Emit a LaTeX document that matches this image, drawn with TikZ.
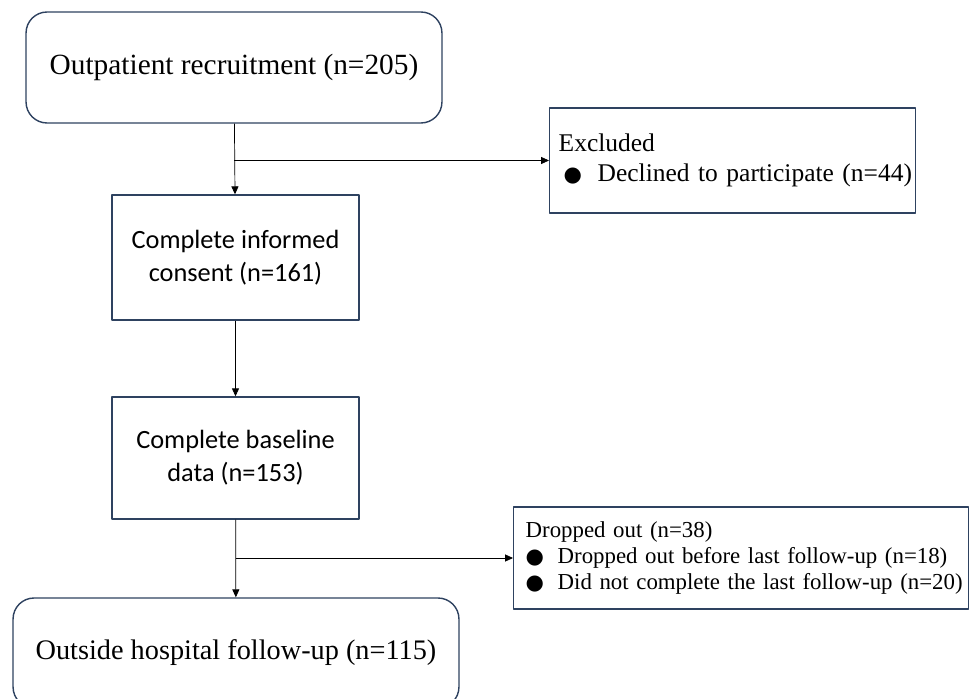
\documentclass[tikz,border=0pt]{standalone}
\usepackage{fontspec}
\setmainfont{Liberation Serif}
\newfontfamily\calibri{Carlito}
\newfontfamily\symfont{DejaVu Sans}
\usetikzlibrary{arrows.meta}
\definecolor{edgeblue}{HTML}{2E4260}
\newcommand{\bul}{{\symfont\fontsize{12}{12}\selectfont ●}}
\begin{document}
\begin{tikzpicture}[x=0.02cm, y=-0.02cm, line join=round, >={Triangle[length=4.5pt,width=4pt]},
	box/.style={draw=edgeblue, line width=0.8pt, minimum width=4.94cm, inner sep=0pt, align=center},
	roundbox/.style={box, rounded corners=0.42cm},
	listbox/.style={draw=edgeblue, line width=0.8pt, align=left, anchor=west}]
	\useasboundingbox (0,0) rectangle (971,699);
	\node[roundbox, minimum width=8.32cm, minimum height=2.22cm, font=\fontsize{16.7}{19}\selectfont] (recruit) at (234,67.5) {Outpatient recruitment (n=205)};
	\node[box, minimum height=2.5cm, font=\calibri\fontsize{15}{18.8}\selectfont] (consent) at (235.5,257.5) {Complete informed\\consent (n=161)};
	\node[box, minimum height=2.44cm, font=\calibri\fontsize{15}{18.8}\selectfont] (baseline) at (235.5,458) {Complete baseline\\data (n=153)};
	\node[roundbox, minimum width=8.92cm, minimum height=2.2cm, font=\fontsize{16.1}{19}\selectfont] (follow) at (236,653) {Outside hospital follow-up (n=115)};
	\node[listbox, text width=6.96cm, inner xsep=0.18cm, minimum height=2.1cm, font=\fontsize{14.5}{17.5}\selectfont] (excl) at (549,160.5)
		{\mbox{Excluded}\\\mbox{\hspace{0.1cm}\makebox[0.68cm][l]{\bul}Declined to participate (n=44)}};
	\node[listbox, text width=8.62cm, inner xsep=0.24cm, minimum height=2.04cm, font=\fontsize{13}{14.6}\selectfont] (drop) at (513,558)
		{\mbox{Dropped out (n=38)}\\\mbox{\makebox[0.64cm][l]{\bul}Dropped out before last follow-up (n=18)}\\\mbox{\makebox[0.64cm][l]{\bul}Did not complete the last follow-up (n=20)}};
	% main line
	\draw[->] (recruit) -- (consent);
	\draw[->] (consent) -- (baseline);
	\draw[->] (baseline) -- (follow);
	% side branches
	\draw[->] (recruit.south |- excl.west) -- (excl.west);
	\draw[->] (baseline.south |- drop.west) -- (drop.west);
\end{tikzpicture}
\end{document}
